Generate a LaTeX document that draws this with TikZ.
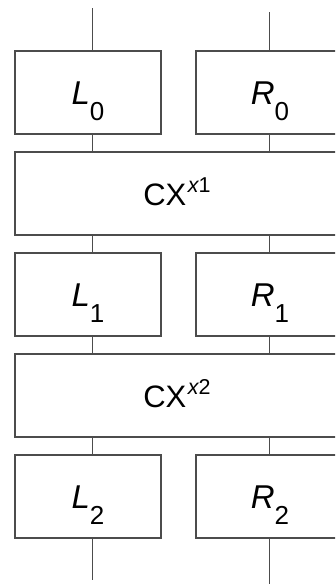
\documentclass[tikz,border=0pt]{standalone}
\usepackage{fontspec}
\setmainfont{Liberation Sans}

% label of a half: italic letter with a lowered index
\newcommand{\halflbl}[2]{{\fontsize{33}{33}\selectfont\itshape #1}\raisebox{-16pt}{\fontsize{26}{26}\selectfont #2}}
% label of a mixing round: CX with a raised key
\newcommand{\mixlbl}[1]{{\fontsize{31}{31}\selectfont CX}\hspace{1.5pt}\raisebox{13pt}{\fontsize{21.5}{21.5}\selectfont\itshape x\upshape #1}}

\begin{document}
\begin{tikzpicture}[x=1pt, y=-1pt,
    wire/.style={draw=black!70, line width=1.3pt},
    halfbox/.style={draw=black!70, line width=1.3pt, minimum height=83pt,
        inner sep=0pt, text height=23pt, text depth=0pt},
    mixbox/.style={halfbox, minimum width=324pt, text height=24pt}]

    \useasboundingbox (0,0) rectangle (335,584);
    \clip (0,0) rectangle (335,584);

% round 0
    \node[halfbox, minimum width=146pt] (L0) at (88,92.5) {\halflbl{L}{0}};
    \node[halfbox, minimum width=148pt] (R0) at (270,92.5) {\halflbl{R}{0}};
% first mix
    \node[mixbox] (X1) at (177,193.5) {\mixlbl{1}};
% round 1
    \node[halfbox, minimum width=146pt] (L1) at (88,294.5) {\halflbl{L}{1}};
    \node[halfbox, minimum width=148pt] (R1) at (270,294.5) {\halflbl{R}{1}};
% second mix
    \node[mixbox] (X2) at (177,395.5) {\mixlbl{2}};
% round 2
    \node[halfbox, minimum width=146pt] (L2) at (88,496.5) {\halflbl{L}{2}};
    \node[halfbox, minimum width=148pt] (R2) at (270,496.5) {\halflbl{R}{2}};

% free ends of the two wires
    \coordinate (inL) at (92.5,8);
    \coordinate (inR) at (269.5,12);
    \coordinate (outL) at (92.5,580);
    \coordinate (outR) at (269.5,584);

% left wire
    \draw[wire] (inL) -- (inL |- L0.north);
    \draw[wire] (L0.south -| inL) -- (inL |- X1.north);
    \draw[wire] (X1.south -| inL) -- (inL |- L1.north);
    \draw[wire] (L1.south -| inL) -- (inL |- X2.north);
    \draw[wire] (X2.south -| inL) -- (inL |- L2.north);
    \draw[wire] (L2.south -| inL) -- (outL);
% right wire
    \draw[wire] (inR) -- (inR |- R0.north);
    \draw[wire] (R0.south -| inR) -- (inR |- X1.north);
    \draw[wire] (X1.south -| inR) -- (inR |- R1.north);
    \draw[wire] (R1.south -| inR) -- (inR |- X2.north);
    \draw[wire] (X2.south -| inR) -- (inR |- R2.north);
    \draw[wire] (R2.south -| inR) -- (outR);

\end{tikzpicture}
\end{document}
